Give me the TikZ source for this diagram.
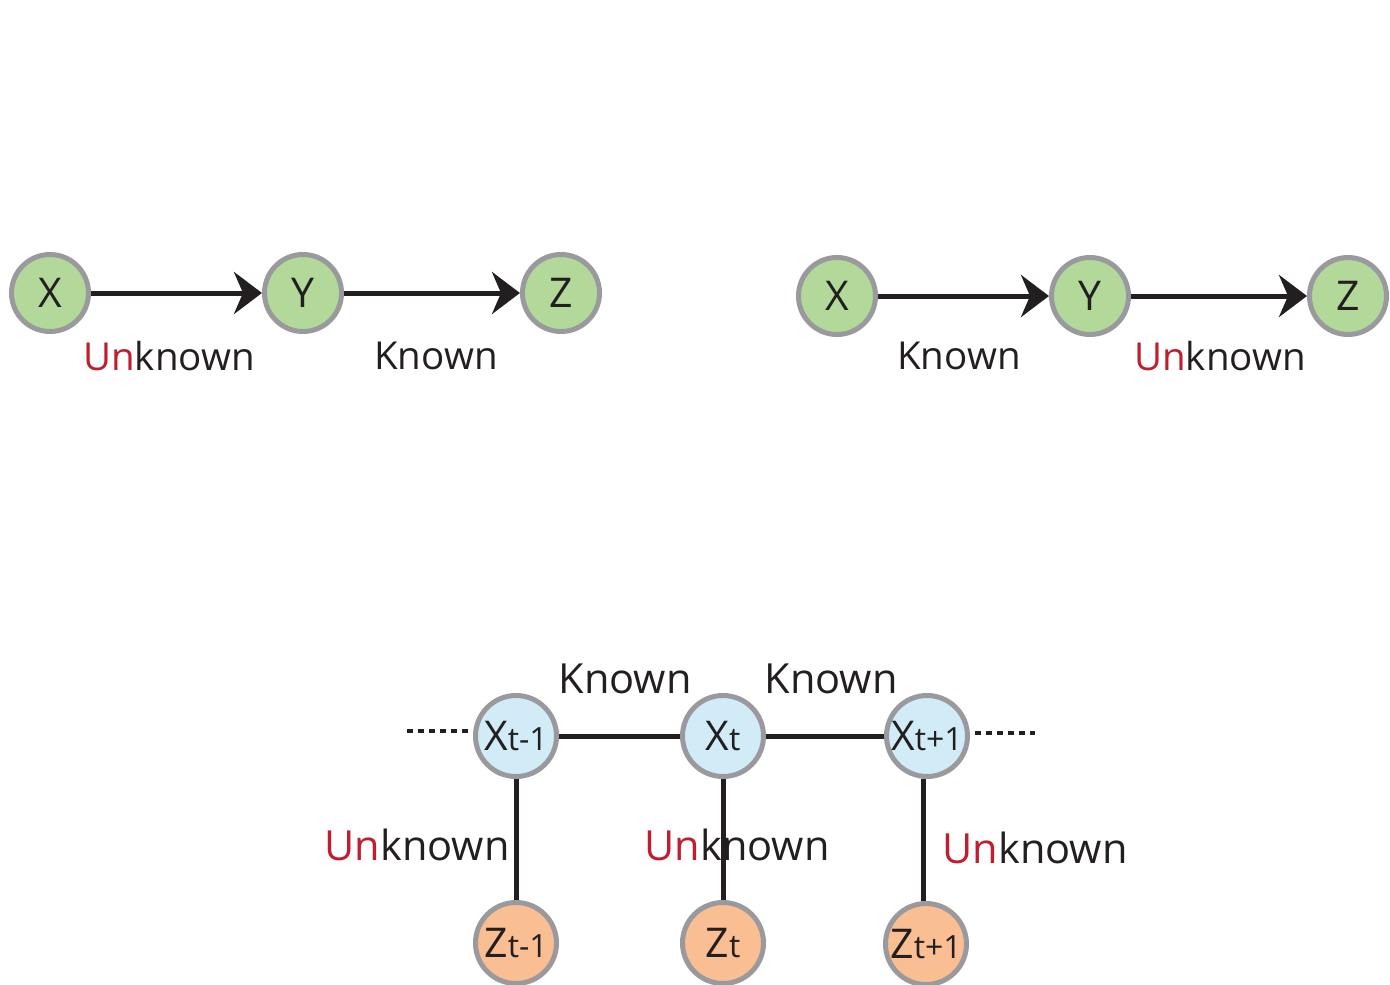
\documentclass[tikz,border=0pt]{standalone}
\usepackage{fontspec}
\setmainfont{Open Sans}
\usetikzlibrary{arrows.meta}
\definecolor{ink}{HTML}{231F20}
\definecolor{rim}{HTML}{9A9A9E}
\definecolor{leaf}{HTML}{B2D999}
\definecolor{sky}{HTML}{D1ECF7}
\definecolor{peach}{HTML}{F9BE92}
\definecolor{alert}{HTML}{BE1E2D}
\newcommand{\unk}{\textcolor{alert}{Un}known}
\newcommand{\idx}[2]{{\fontsize{41}{44}\selectfont #1}{\fontsize{32}{34}\selectfont #2}}
\tikzset{
  state/.style={circle, draw=rim, line width=5pt, minimum size=77pt, inner sep=0pt,
    text=ink, font=\fontsize{41}{44}\selectfont},
  green/.style={state, fill=leaf},
  hidden/.style={state, fill=sky, minimum size=81pt},
  observed/.style={state, fill=peach, minimum size=81pt},
  link/.style={draw=ink, line width=5pt},
  arrowlink/.style={link, -{Stealth[length=28pt,width=42pt,inset=9pt]}},
  dotlink/.style={draw=ink, line width=4.5pt, dash pattern=on 6pt off 5pt},
  lbl/.style={text=ink, font=\fontsize{38.5}{42}\selectfont, inner sep=0pt},
  lblb/.style={text=ink, font=\fontsize{41.5}{45}\selectfont, inner sep=0pt}
}
\begin{document}
\begin{tikzpicture}[x=1pt,y=-1pt]
\useasboundingbox (0,0) rectangle (1390,985);

% left chain: X -> Y -> Z
\node[green] (xa) at (50,293) {X};
\node[green] (ya) at (303,293) {Y};
\node[green] (za) at (561,293) {Z};
\draw[arrowlink] (xa) -- (ya);
\draw[arrowlink] (ya) -- (za);
\node[lbl] (la1) at (169,356) {\unk};
\node[lbl] (la2) at (436,356) {Known};

% right chain: X -> Y -> Z
\node[green] (xb) at (837,296) {X};
\node[green] (yb) at (1090,296) {Y};
\node[green] (zb) at (1348,296) {Z};
\draw[arrowlink] (xb) -- (yb);
\draw[arrowlink] (yb) -- (zb);
\node[lbl] (lb1) at (959,356) {Known};
\node[lbl] (lb2) at (1220,356) {\unk};

% time chain with observations
\node[hidden] (x1) at (516,736) {\idx{X}{t-1}};
\node[hidden] (x2) at (723,736) {\idx{X}{t}};
\node[hidden] (x3) at (927,736) {\idx{X}{t+1}};
\node[observed] (z1) at (516,943) {\idx{Z}{t-1}};
\node[observed] (z2) at (723,943) {\idx{Z}{t}};
\node[observed] (z3) at (926,944) {\idx{Z}{t+1}};

\draw[link] (x1) -- (x2);
\draw[link] (x2) -- (x3);
\draw[link] (x1) -- (z1);
\draw[link] (x2) -- (z2);
\draw[link] ([xshift=-4pt]x3.south) -- ([xshift=-3pt]z3.north);

\coordinate (dl) at (407,731);
\coordinate (dlend) at (468,731);
\coordinate (dr) at (975,733);
\coordinate (drend) at (1035,733);
\draw[dotlink] (dl) -- (dlend);
\draw[dotlink] (dr) -- (drend);

\node[lblb] (k1) at (625,679) {Known};
\node[lblb] (k2) at (831,679) {Known};
\node[lblb] (u1) at (417,845) {\unk};
\node[lblb] (u2) at (737,845) {\unk};
\node[lblb] (u3) at (1035,848) {\unk};
\end{tikzpicture}
\end{document}
